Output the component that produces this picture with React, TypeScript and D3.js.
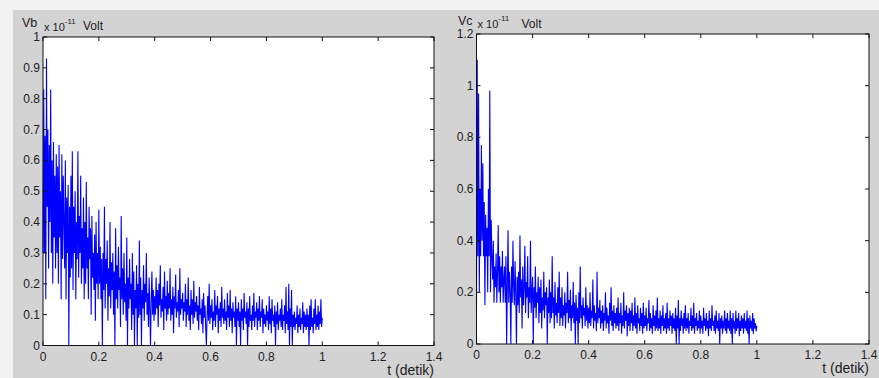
import React from "react";
import * as d3 from "d3";

// sampling step of the series (seconds); samples run from t=0 to t=1
const T_STEP = 0.0025;

const vbValues: number[] = [
  0.30, 0.83, 0.30, 0.68, 0.15, 0.93, 0.45, 0.70, 0.25, 0.65, 0.40, 0.83, 0.30, 0.60, 0.20, 0.66, 0.35, 0.55, 0.25, 0.62,
  0.30, 0.58, 0.20, 0.65, 0.35, 0.50, 0.15, 0.62, 0.28, 0.55, 0.40, 0.25, 0.60, 0.15, 0.48, 0.30, 0.52, 0.00, 0.45, 0.22,
  0.55, 0.25, 0.63, 0.18, 0.45, 0.30, 0.50, 0.15, 0.40, 0.28, 0.63, 0.22, 0.42, 0.30, 0.55, 0.20, 0.38, 0.25, 0.48, 0.15,
  0.40, 0.20, 0.53, 0.25, 0.35, 0.15, 0.45, 0.28, 0.38, 0.10, 0.42, 0.22, 0.30, 0.18, 0.36, 0.08, 0.40, 0.20, 0.30, 0.15,
  0.44, 0.20, 0.32, 0.15, 0.28, 0.00, 0.30, 0.18, 0.45, 0.12, 0.28, 0.20, 0.34, 0.08, 0.25, 0.16, 0.40, 0.12, 0.27, 0.18,
  0.30, 0.10, 0.24, 0.00, 0.38, 0.15, 0.26, 0.12, 0.32, 0.18, 0.22, 0.06, 0.42, 0.15, 0.25, 0.10, 0.30, 0.14, 0.20, 0.08,
  0.35, 0.00, 0.22, 0.12, 0.28, 0.15, 0.20, 0.05, 0.30, 0.10, 0.24, 0.00, 0.18, 0.12, 0.26, 0.00, 0.20, 0.09, 0.34, 0.10,
  0.22, 0.00, 0.18, 0.12, 0.26, 0.08, 0.20, 0.14, 0.30, 0.10, 0.17, 0.06, 0.22, 0.12, 0.00, 0.15, 0.24, 0.10, 0.18, 0.08,
  0.16, 0.10, 0.22, 0.12, 0.18, 0.06, 0.20, 0.13, 0.26, 0.09, 0.15, 0.11, 0.19, 0.05, 0.24, 0.12, 0.16, 0.08, 0.21, 0.10,
  0.17, 0.12, 0.25, 0.08, 0.15, 0.10, 0.19, 0.04, 0.16, 0.12, 0.23, 0.09, 0.14, 0.11, 0.18, 0.06, 0.25, 0.10, 0.15, 0.12,
  0.17, 0.08, 0.14, 0.11, 0.20, 0.06, 0.15, 0.10, 0.22, 0.08, 0.13, 0.05, 0.18, 0.10, 0.15, 0.07, 0.21, 0.09, 0.14, 0.11,
  0.16, 0.08, 0.13, 0.05, 0.19, 0.10, 0.12, 0.07, 0.15, 0.04, 0.17, 0.09, 0.13, 0.06, 0.00, 0.10, 0.16, 0.08, 0.20, 0.07,
  0.13, 0.09, 0.15, 0.05, 0.11, 0.08, 0.18, 0.06, 0.13, 0.10, 0.16, 0.04, 0.12, 0.08, 0.14, 0.06, 0.19, 0.09, 0.12, 0.07,
  0.15, 0.08, 0.11, 0.05, 0.17, 0.09, 0.13, 0.06, 0.18, 0.08, 0.12, 0.04, 0.14, 0.09, 0.11, 0.06, 0.16, 0.00, 0.12, 0.08,
  0.14, 0.06, 0.11, 0.00, 0.15, 0.08, 0.12, 0.05, 0.17, 0.09, 0.11, 0.07, 0.14, 0.00, 0.12, 0.06, 0.16, 0.08, 0.10, 0.05,
  0.13, 0.08, 0.17, 0.06, 0.11, 0.09, 0.14, 0.05, 0.12, 0.08, 0.16, 0.06, 0.11, 0.09, 0.15, 0.04, 0.12, 0.07, 0.10, 0.06,
  0.13, 0.08, 0.11, 0.05, 0.16, 0.07, 0.12, 0.04, 0.15, 0.08, 0.10, 0.06, 0.13, 0.00, 0.11, 0.07, 0.14, 0.05, 0.10, 0.08,
  0.12, 0.06, 0.15, 0.05, 0.10, 0.08, 0.13, 0.04, 0.19, 0.07, 0.11, 0.05, 0.20, 0.00, 0.12, 0.06, 0.18, 0.00, 0.10, 0.06,
  0.11, 0.05, 0.09, 0.07, 0.13, 0.04, 0.10, 0.06, 0.12, 0.05, 0.09, 0.07, 0.14, 0.04, 0.11, 0.06, 0.10, 0.05, 0.12, 0.06,
  0.10, 0.00, 0.13, 0.05, 0.15, 0.06, 0.09, 0.04, 0.12, 0.07, 0.15, 0.05, 0.10, 0.06, 0.13, 0.05, 0.11, 0.07, 0.15, 0.06,
  0.09,
];

const vcValues: number[] = [
  0.15, 1.10, 0.34, 0.97, 0.20, 0.60, 0.34, 0.77, 0.40, 0.70, 0.34, 0.55, 0.15, 0.50, 0.34, 0.45, 0.20, 0.60, 0.34, 0.98,
  0.20, 0.48, 0.34, 0.25, 0.40, 0.16, 0.30, 0.22, 0.35, 0.16, 0.28, 0.46, 0.20, 0.34, 0.16, 0.30, 0.22, 0.36, 0.16, 0.25,
  0.30, 0.16, 0.34, 0.00, 0.22, 0.44, 0.16, 0.28, 0.20, 0.00, 0.30, 0.16, 0.40, 0.22, 0.15, 0.32, 0.20, 0.00, 0.26, 0.15,
  0.28, 0.12, 0.42, 0.18, 0.25, 0.06, 0.30, 0.15, 0.22, 0.38, 0.12, 0.24, 0.18, 0.34, 0.10, 0.22, 0.16, 0.40, 0.12, 0.20,
  0.26, 0.00, 0.22, 0.14, 0.30, 0.10, 0.20, 0.16, 0.26, 0.08, 0.22, 0.12, 0.25, 0.06, 0.18, 0.13, 0.28, 0.10, 0.20, 0.15,
  0.22, 0.00, 0.18, 0.12, 0.25, 0.08, 0.20, 0.10, 0.34, 0.12, 0.18, 0.06, 0.24, 0.11, 0.16, 0.08, 0.22, 0.12, 0.28, 0.07,
  0.18, 0.10, 0.22, 0.07, 0.15, 0.11, 0.20, 0.06, 0.16, 0.12, 0.28, 0.08, 0.17, 0.10, 0.21, 0.05, 0.15, 0.10, 0.24, 0.08,
  0.16, 0.00, 0.19, 0.09, 0.14, 0.00, 0.20, 0.08, 0.30, 0.10, 0.15, 0.06, 0.18, 0.11, 0.14, 0.07, 0.22, 0.09, 0.15, 0.06,
  0.14, 0.08, 0.20, 0.07, 0.13, 0.10, 0.25, 0.06, 0.15, 0.09, 0.12, 0.05, 0.28, 0.08, 0.14, 0.10, 0.17, 0.06, 0.13, 0.08,
  0.15, 0.05, 0.12, 0.09, 0.20, 0.06, 0.14, 0.08, 0.11, 0.04, 0.16, 0.09, 0.22, 0.07, 0.13, 0.05, 0.15, 0.08, 0.12, 0.06,
  0.14, 0.07, 0.18, 0.05, 0.12, 0.08, 0.16, 0.04, 0.11, 0.07, 0.20, 0.06, 0.13, 0.09, 0.15, 0.03, 0.12, 0.07, 0.14, 0.05,
  0.13, 0.08, 0.16, 0.05, 0.11, 0.07, 0.18, 0.06, 0.12, 0.04, 0.15, 0.08, 0.10, 0.05, 0.14, 0.07, 0.12, 0.04, 0.16, 0.06,
  0.11, 0.07, 0.14, 0.05, 0.10, 0.08, 0.17, 0.05, 0.12, 0.06, 0.10, 0.04, 0.15, 0.07, 0.11, 0.05, 0.13, 0.06, 0.18, 0.05,
  0.10, 0.06, 0.13, 0.04, 0.11, 0.07, 0.15, 0.05, 0.10, 0.06, 0.12, 0.04, 0.16, 0.06, 0.10, 0.05, 0.13, 0.07, 0.11, 0.04,
  0.12, 0.06, 0.10, 0.05, 0.14, 0.00, 0.11, 0.06, 0.17, 0.00, 0.10, 0.05, 0.13, 0.07, 0.10, 0.04, 0.12, 0.06, 0.15, 0.05,
  0.10, 0.06, 0.12, 0.04, 0.09, 0.07, 0.14, 0.05, 0.11, 0.06, 0.16, 0.04, 0.10, 0.07, 0.12, 0.05, 0.09, 0.06, 0.13, 0.04,
  0.11, 0.06, 0.09, 0.04, 0.14, 0.07, 0.10, 0.05, 0.12, 0.06, 0.09, 0.03, 0.13, 0.06, 0.10, 0.05, 0.15, 0.07, 0.09, 0.05,
  0.11, 0.04, 0.13, 0.06, 0.09, 0.05, 0.12, 0.00, 0.10, 0.06, 0.11, 0.04, 0.09, 0.06, 0.13, 0.05, 0.10, 0.04, 0.12, 0.06,
  0.09, 0.05, 0.13, 0.04, 0.10, 0.00, 0.12, 0.06, 0.09, 0.04, 0.13, 0.05, 0.10, 0.06, 0.12, 0.03, 0.09, 0.05, 0.11, 0.06,
  0.10, 0.04, 0.12, 0.06, 0.09, 0.05, 0.13, 0.04, 0.10, 0.00, 0.11, 0.06, 0.09, 0.05, 0.12, 0.04, 0.10, 0.06, 0.08, 0.05,
  0.07,
];

const xTicks = [0, 0.2, 0.4, 0.6, 0.8, 1, 1.2, 1.4];
const vbYTicks = [0, 0.1, 0.2, 0.3, 0.4, 0.5, 0.6, 0.7, 0.8, 0.9, 1];
const vcYTicks = [0, 0.2, 0.4, 0.6, 0.8, 1, 1.2];
const xLabel = "t (detik)";

const FONT = "'Liberation Sans', Arial, Helvetica, sans-serif";

type PanelProps = {
  left: number;
  right: number;
  top: number;
  bottom: number;
  values: number[];
  yMax: number;
  yTicks: number[];
  name: string;
  nameDx: number;
  nameDy: number;
  expDy: number;
  voltDx: number;
};

function fmt(v: number) {
  return String(+v.toFixed(2));
}

function Panel({
  left,
  right,
  top,
  bottom,
  values,
  yMax,
  yTicks,
  name,
  nameDx,
  nameDy,
  expDy,
  voltDx,
}: PanelProps) {
  const x = d3.scaleLinear().domain([0, 1.4]).range([left, right]);
  const y = d3.scaleLinear().domain([0, yMax]).range([bottom, top]);
  const data = values.map((v, i) => [i * T_STEP, v] as [number, number]);
  const line = d3
    .line<[number, number]>()
    .x((d) => x(d[0]))
    .y((d) => y(d[1]));
  const tk = 4;
  return (
    <g>
      <rect x={left} y={top} width={right - left} height={bottom - top} fill="#ffffff" />
      <path d={line(data) || ""} fill="none" stroke="#0000ff" strokeWidth={1.1} />
      <rect
        x={left}
        y={top}
        width={right - left}
        height={bottom - top}
        fill="none"
        stroke="#111"
        strokeWidth={1}
      />
      {xTicks.map((t) => (
        <g key={"x" + t}>
          <line x1={x(t)} x2={x(t)} y1={bottom} y2={bottom - tk} stroke="#111" />
          <line x1={x(t)} x2={x(t)} y1={top} y2={top + tk} stroke="#111" />
          <text
            x={x(t)}
            y={bottom + 15}
            textAnchor="middle"
            fontSize={12}
            fontFamily={FONT}
            fill="#222"
          >
            {fmt(t)}
          </text>
        </g>
      ))}
      {yTicks.map((t) => (
        <g key={"y" + t}>
          <line x1={left} x2={left + tk} y1={y(t)} y2={y(t)} stroke="#111" />
          <line x1={right} x2={right - tk} y1={y(t)} y2={y(t)} stroke="#111" />
          <text
            x={left - 3}
            y={y(t) + 4}
            textAnchor="end"
            fontSize={12}
            fontFamily={FONT}
            fill="#222"
          >
            {fmt(t)}
          </text>
        </g>
      ))}
      <text x={right} y={bottom + 29} textAnchor="end" fontSize={14} fontFamily={FONT} fill="#222">
        {xLabel}
      </text>
      <text x={left + nameDx} y={top + nameDy} fontSize={12.5} fontFamily={FONT} fill="#222">
        {name}
      </text>
      <text x={left + 1} y={top + expDy} fontSize={11} fontFamily={FONT} fill="#222">
        x 10
        <tspan dy={-7} fontSize={8}>
          -11
        </tspan>
      </text>
      <text x={left + voltDx} y={top + expDy - 0.5} fontSize={12} fontFamily={FONT} fill="#222">
        Volt
      </text>
    </g>
  );
}

export default function App() {
  const W = 879;
  const H = 378;
  return (
    <svg
      width={W}
      height={H}
      style={{ position: "absolute", left: 0, top: 0 }}
      xmlns="http://www.w3.org/2000/svg"
    >
      <rect x={0} y={0} width={W} height={H} fill="#f2f2f2" />
      <rect x={13} y={10} width={W - 13} height={H - 10} fill="#d3d3d3" />
      <Panel
        left={43}
        right={434}
        top={37}
        bottom={345.5}
        values={vbValues}
        yMax={1}
        yTicks={vbYTicks}
        name="Vb"
        nameDx={-21}
        nameDy={-10}
        expDy={-6.5}
        voltDx={40}
      />
      <Panel
        left={476.5}
        right={869}
        top={34}
        bottom={344}
        values={vcValues}
        yMax={1.2}
        yTicks={vcYTicks}
        name="Vc"
        nameDx={-18.5}
        nameDy={-9}
        expDy={-6}
        voltDx={45}
      />
    </svg>
  );
}
